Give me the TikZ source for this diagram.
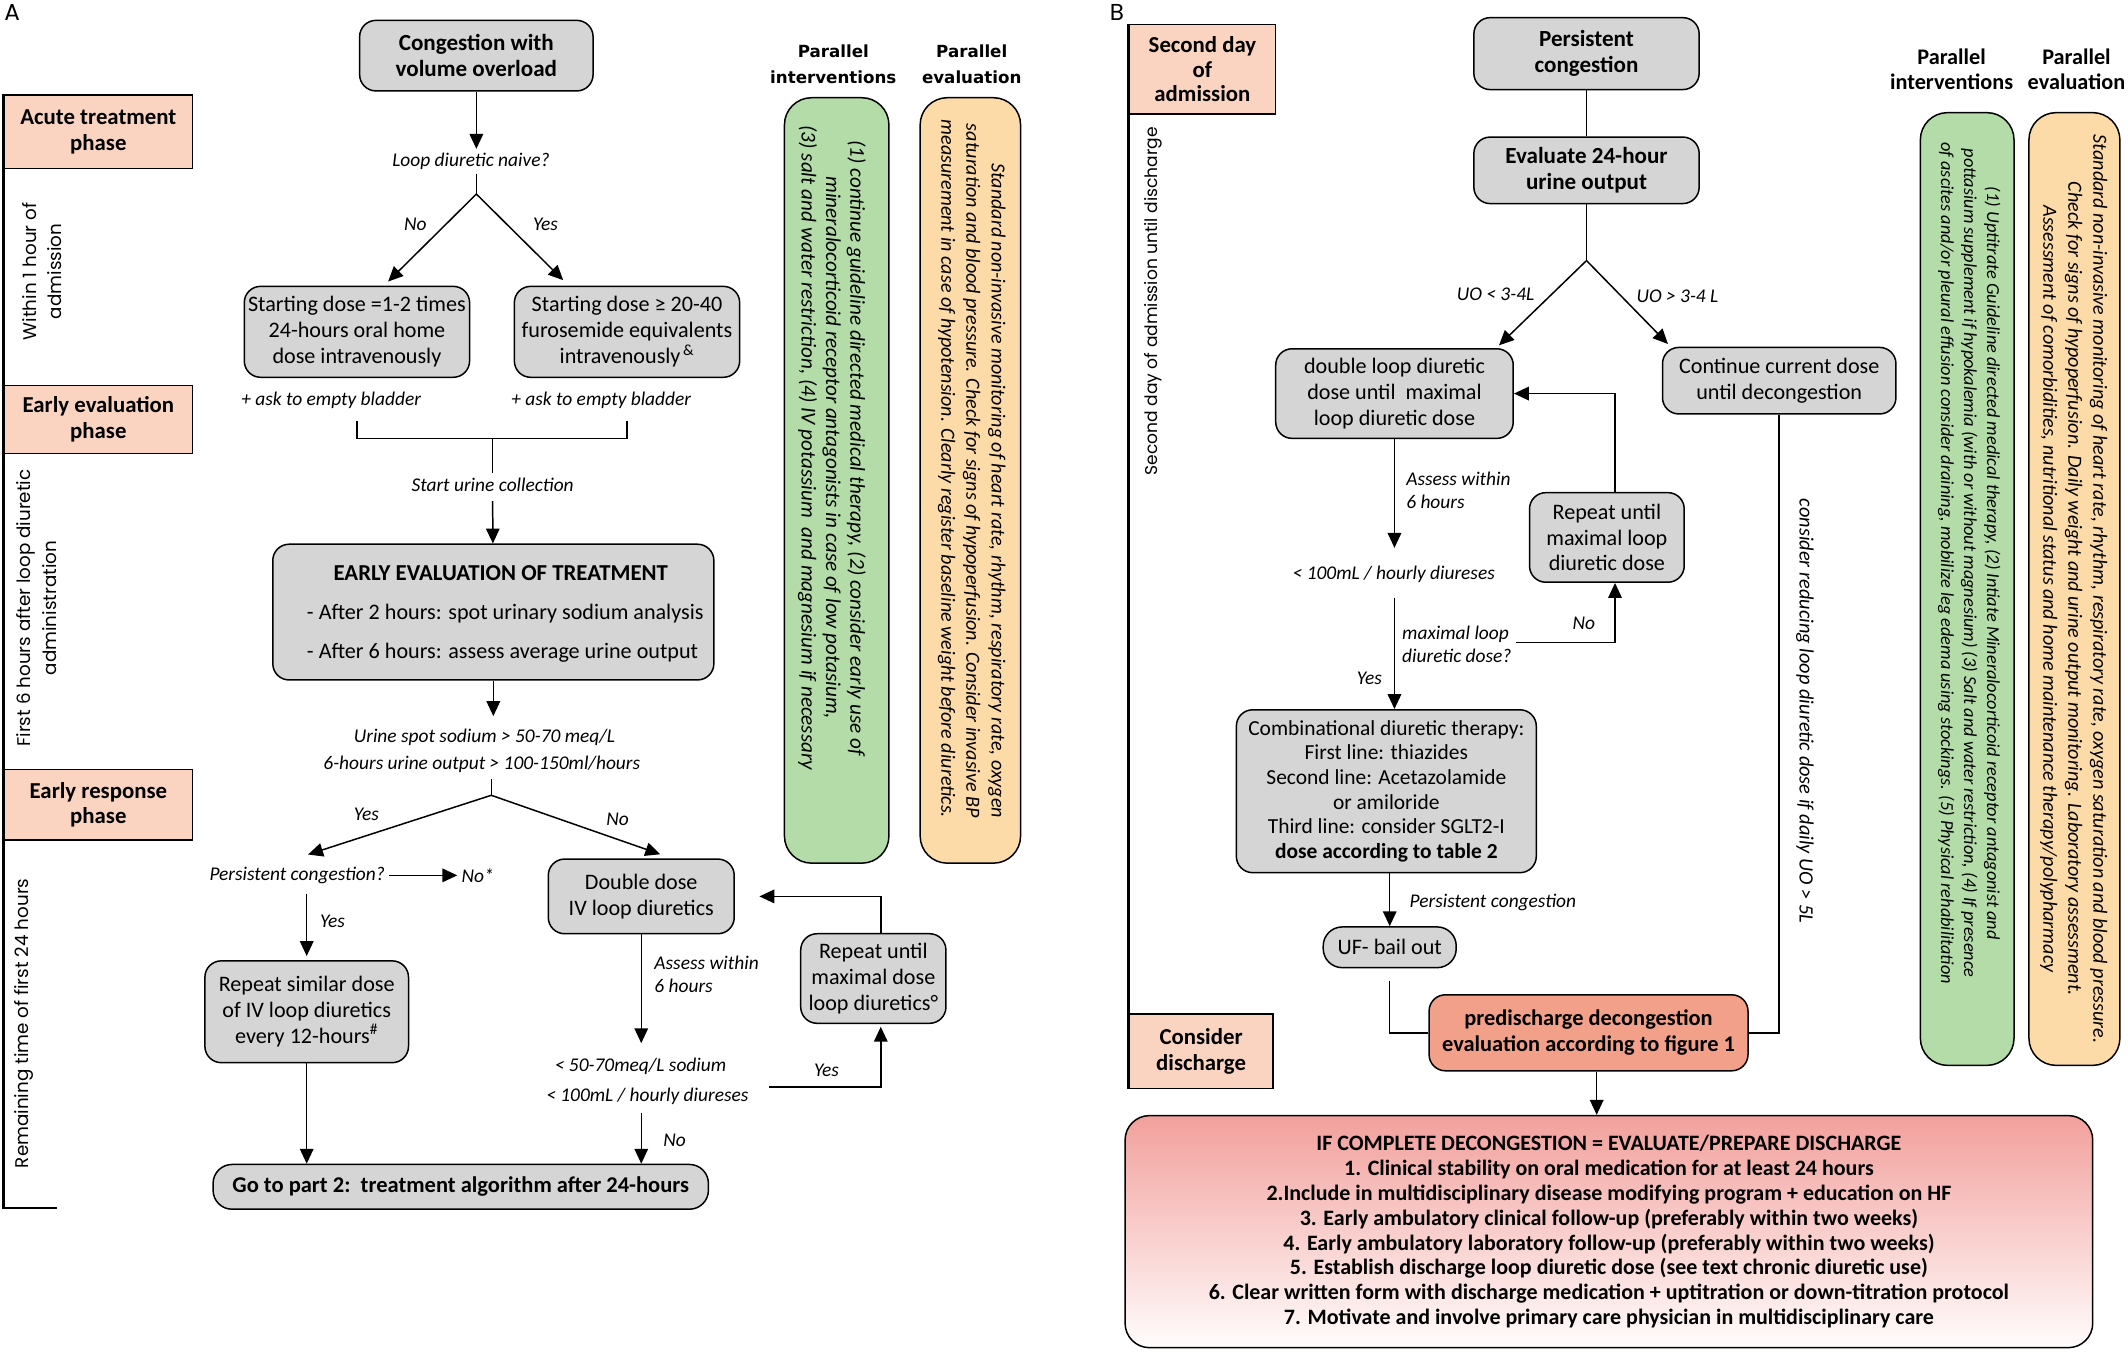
\documentclass[tikz,border=0pt]{standalone}
\usepackage{fontspec}
\setmainfont{Carlito}
\newfontfamily\gothic{Poppins}
\newfontfamily\verd{DejaVu Sans}
\usetikzlibrary{arrows.meta}
\definecolor{boxgray}{HTML}{D5D5D6}
\definecolor{phasefill}{HTML}{FBD4C1}
\definecolor{grn}{HTML}{B4DCA8}
\definecolor{org}{HTML}{FDDBA8}
\definecolor{salmon}{HTML}{F3A08A}
\definecolor{pinktop}{HTML}{F2A09C}
\begin{document}
\begin{tikzpicture}[x=1pt,y=-1pt,
 base/.style={line width=1.1pt},
 gbox/.style={draw, base, fill=boxgray, rounded corners=12pt, inner sep=0pt, align=center, font=\fontsize{16.3}{19}\selectfont},
 bbox/.style={gbox, font=\fontsize{17}{19.5}\selectfont\bfseries},
 phase/.style={draw, base, fill=phasefill, inner sep=0pt, align=center, font=\fontsize{16.8}{19}\selectfont\bfseries},
 lbl/.style={inner sep=3pt, align=center, font=\fontsize{14.3}{17}\selectfont\itshape},
 vlab/.style={inner sep=0pt, align=center, font=\gothic\fontsize{13.5}{19}\selectfont},
 con/.style={base},
 arr/.style={base, -{Triangle[length=11pt,width=10pt]}},
 side/.style={draw, base, rounded corners=20pt, inner sep=0pt},
 sidetxt/.style={inner sep=0pt, font=\itshape\fontsize{15.6}{18}\selectfont},
 hdrA/.style={inner sep=0pt, align=center, font=\verd\bfseries\fontsize{12.3}{19}\selectfont},
 hdrB/.style={inner sep=0pt, align=center, font=\bfseries\fontsize{16.4}{18}\selectfont},
 panel/.style={inner sep=0pt, font=\gothic\fontsize{17}{17}\selectfont}
]
\useasboundingbox (0,0) rectangle (1568,996);

% ================= Panel A =================
\node[panel] (labA) at (9,9) {A};
\node[phase, minimum width=139pt, minimum height=54pt] (p1) at (72.5,97) {Acute treatment\\phase};
\node[phase, minimum width=139pt, minimum height=50pt] (p2) at (72.5,309) {Early evaluation\\phase};
\node[phase, minimum width=139pt, minimum height=52pt] (p3) at (72.5,593) {Early response\\phase};
\coordinate (aEnd) at (42,890);
\draw[line width=1.8pt] (p1.north west) -- (p1.north west |- aEnd) -- (aEnd);
\node[vlab, rotate=90] (t1) at (31,200) {Within 1 hour of\\admission};
\node[vlab, rotate=90] (t2) at (27,448) {First 6 hours after loop diuretic\\administration};
\node[vlab, rotate=90] (t3) at (18,754) {Remaining time of first 24 hours};

\node[bbox, minimum width=172pt, minimum height=52pt] (c1) at (351,41) {Congestion with\\volume overload};
\node[lbl] (q1) at (347,119) {Loop diuretic naive?};
\draw[arr] (c1) -- (c1 |- q1.north);
\coordinate (b1) at (351,143);
\draw[con] (q1.south -| b1) -- (b1);
\node[gbox, minimum width=166pt, minimum height=67pt] (s1) at (263,244.5) {Starting dose =1-2 times\\24-hours oral home\\dose intravenously};
\node[gbox, minimum width=166pt, minimum height=67pt] (s2) at (462,244.5) {Starting dose ≥ 20-40\\furosemide equivalents\\intravenously\textsuperscript{\,\&}};
\draw[arr] (b1) -- ([xshift=23pt,yshift=3pt]s1.north);
\draw[arr] (b1) -- ([xshift=-47pt,yshift=4pt]s2.north);
\node[lbl] (nA1) at (306,165) {No};
\node[lbl] (yA1) at (402,165) {Yes};
\node[lbl] (e1) at (244,295) {+ ask to empty bladder};
\node[lbl] (e2) at (443,295) {+ ask to empty bladder};
\coordinate (bm) at (363,323);
\draw[con] (s1.south |- 0,310) -- (s1.south |- bm) -- (s2.south |- bm) -- (s2.south |- 0,310);
\node[lbl] (u1) at (363,357) {Start urine collection};
\draw[con] (bm) -- (u1);
\node[gbox, minimum width=325pt, minimum height=100pt] (ee) at (363.5,451) {};
\draw[arr] ([yshift=-4pt]u1.south) -- (ee);
\node[inner sep=0pt, font=\fontsize{16.8}{19}\selectfont\bfseries] (ee1) at (369,422) {EARLY EVALUATION OF TREATMENT};
\node[inner sep=0pt, anchor=west, font=\fontsize{16.3}{19}\selectfont] (ee2) at (226,452) {- After 2 hours: spot urinary sodium analysis};
\node[inner sep=0pt, anchor=west, font=\fontsize{16.3}{19}\selectfont] (ee3) at (226,481) {- After 6 hours: assess average urine output};
\node[lbl] (r1) at (357,543) {Urine spot sodium > 50-70 meq/L};
\node[lbl] (r2) at (355,563) {6-hours urine output > 100-150ml/hours};
\draw[arr] (ee) -- ([yshift=6pt]ee.south |- r1.north);
\coordinate (b2) at (362,586);
\draw[con] ([yshift=-2pt]r2.south -| b2) -- (b2);
\node[lbl] (pc) at (219,645) {Persistent congestion?};
\node[lbl] (nos) at (352,645) {No*};
\node[gbox, minimum width=137pt, minimum height=55pt] (dd) at (472.5,660.5) {Double dose\\IV loop diuretics};
\draw[arr] (b2) -- ([xshift=8pt,yshift=6pt]pc.north);
\draw[arr] (b2) -- ([xshift=14pt,yshift=3pt]dd.north);
\node[lbl] (yA2) at (270,600) {Yes};
\node[lbl] (nA2) at (455,604) {No};
\draw[arr] (pc) -- (nos);
\node[gbox, minimum width=150pt, minimum height=75pt] (rs) at (226,745.5) {Repeat similar dose\\of IV loop diuretics\\every 12-hours\textsuperscript{\#}};
\draw[arr] ([yshift=-4pt]pc.south -| rs.north) -- ([yshift=3pt]rs.north);
\node[lbl] (yA3) at (245,679) {Yes};
\node[bbox, minimum width=365pt, minimum height=33pt, rounded corners=14pt, font=\fontsize{16.6}{19}\selectfont\bfseries] (go) at (339.5,874.5) {Go to part 2:\ \ treatment algorithm after 24-hours};
\draw[arr] (rs) -- (rs |- go.north);
\node[lbl, anchor=west, align=left] (as1) at (479,718) {Assess within\\6 hours};
\node[lbl] (d1) at (472,786) {< 50-70meq/L sodium};
\node[lbl] (d2) at (477,808) {< 100mL / hourly diureses};
\draw[arr] (dd) -- ([yshift=8pt]dd.south |- d1.north);
\draw[arr] ([yshift=-3pt]d2.south -| dd.south) -- (dd.south |- go.north);
\node[lbl] (nA3) at (497,840) {No};
\node[gbox, minimum width=107pt, minimum height=66pt] (rm) at (643.5,721) {Repeat until\\maximal dose\\loop diuretics°};
\draw[arr] ([xshift=12pt,yshift=7pt]d2.east) -| ([xshift=5.5pt,yshift=-2pt]rm.south);
\node[lbl] (yA4) at (609,789) {Yes};
\draw[arr] ([xshift=5.5pt]rm.north) |- ([xshift=18pt]dd.east);

% side columns A
\node[hdrA] (ph1) at (614,47.5) {Parallel\\interventions};
\node[hdrA] (ph2) at (716,47.5) {Parallel\\evaluation};
\node[side, fill=grn, minimum width=77pt, minimum height=564pt] (gA) at (616.5,354) {};
\node[side, fill=org, minimum width=74pt, minimum height=564pt] (oA) at (715,354) {};
\node[sidetxt, rotate=-90, align=center] (gAt) at (613,330) {(1) continue guideline directed medical therapy, (2) consider early use of\\mineralocorticoid receptor antagonists in case of low potasium,\\(3) salt and water restriction, (4) IV potassium\ \ and magnesium if necessary};
\node[sidetxt, rotate=-90, align=right, anchor=east, font=\itshape\fontsize{14.8}{18.5}\selectfont] (oAt) at (716,603) {Standard non-invasive monitoring of heart rate, rhythm, respiratory rate, oxygen\\saturation and blood pressure. Check for signs of hypoperfusion. Consider invasive BP\\measurement in case of hypotension. Clearly register baseline weight before diuretics.};

% ================= Panel B =================
\node[panel] (labB) at (823,9) {B};
\node[phase, minimum width=108pt, minimum height=66pt, font=\fontsize{16.8}{18}\selectfont\bfseries] (q1B) at (886,51) {Second day\\of\\admission};
\node[phase, minimum width=106pt, minimum height=55pt] (q2B) at (885,774.5) {Consider\\discharge};
\draw[line width=1.8pt] (q1B.north west) -- (q2B.south west);
\node[vlab, rotate=90, font=\gothic\fontsize{12.6}{19}\selectfont] (t4) at (850,222) {Second day of admission until discharge};

\node[bbox, minimum width=166pt, minimum height=53pt] (pc2) at (1169,39.5) {Persistent\\congestion};
\node[bbox, minimum width=166pt, minimum height=49pt] (ev) at (1169,125.5) {Evaluate 24-hour\\urine output};
\draw[con] (pc2) -- (ev);
\coordinate (b3) at (1169,192);
\draw[con] (ev) -- (b3);
\node[gbox, minimum width=175pt, minimum height=66pt] (dl) at (1027.5,290) {double loop diuretic\\dose until\ \ maximal\\loop diuretic dose};
\node[gbox, minimum width=172pt, minimum height=49pt] (cc) at (1311,280.5) {Continue current dose\\until decongestion};
\draw[arr] (b3) -- ([xshift=77pt,yshift=2pt]dl.north);
\draw[arr] (b3) -- ([xshift=-82pt,yshift=2pt]cc.north);
\node[lbl] (uo1) at (1102,217) {UO < 3-4L};
\node[lbl] (uo2) at (1236,218) {UO > 3-4 L};
\node[lbl, anchor=west, align=left] (as2) at (1033,361.5) {Assess within\\6 hours};
\node[lbl] (hd) at (1027,423) {< 100mL / hourly diureses};
\draw[arr] (dl) -- ([yshift=10pt]hd.north -| dl.south);
\node[gbox, minimum width=221pt, minimum height=120pt, font=\fontsize{15.8}{18.2}\selectfont] (cb) at (1021.5,583) {Combinational diuretic therapy:\\First line: thiazides\\Second line: Acetazolamide\\or amiloride\\Third line: consider SGLT2-I\\\textbf{dose according to table 2}};
\draw[arr] ([yshift=-8pt]hd.south -| dl.south) -- (dl.south |- cb.north);
\node[lbl, anchor=west, align=left] (ml) at (1030,474.5) {maximal loop\\diuretic dose?};
\node[lbl] (yB1) at (1009,500) {Yes};
\node[gbox, minimum width=114pt, minimum height=66pt] (rr) at (1184,396) {Repeat until\\maximal loop\\diuretic dose};
\draw[arr] ([yshift=1pt]ml.east) -| ([xshift=6pt]rr.south);
\node[lbl] (nB1) at (1167,459) {No};
\draw[arr] ([xshift=6pt]rr.north) |- (dl.east);
\node[gbox, minimum width=98pt, minimum height=30pt, rounded corners=14pt] (uf) at (1024,698) {UF- bail out};
\draw[arr] (cb.south -| uf.north) -- (uf.north);
\node[lbl] (pcl) at (1100,665) {Persistent congestion};
\node[gbox, fill=salmon, minimum width=235pt, minimum height=56pt, font=\fontsize{16.5}{19}\selectfont\bfseries] (pd) at (1170.5,761) {predischarge decongestion\\evaluation according to figure 1};
\draw[con] ([yshift=-9pt]uf.south) |- (pd.west);
\draw[con] (cc.south) |- (pd.east);
\node[lbl, rotate=-90, font=\fontsize{15}{17}\selectfont\itshape] (rd) at (1330,524) {consider reducing loop diuretic dose if daily UO > 5L};
\node[draw, base, rounded corners=18pt, top color=pinktop, bottom color=white!97!pinktop, minimum width=713pt, minimum height=171pt, inner sep=0pt, align=center, font=\fontsize{16.2}{18.3}\selectfont\bfseries] (ifb) at (1185.5,907.5) {IF COMPLETE DECONGESTION = EVALUATE/PREPARE DISCHARGE\\1. Clinical stability on oral medication for at least 24 hours\\2.Include in multidisciplinary disease modifying program + education on HF\\3. Early ambulatory clinical follow-up (preferably within two weeks)\\4. Early ambulatory laboratory follow-up (preferably within two weeks)\\5. Establish discharge loop diuretic dose (see text chronic diuretic use)\\6. Clear written form with discharge medication + uptitration or down-titration protocol\\7. Motivate and involve primary care physician in multidisciplinary care};
\draw[arr] ([xshift=6pt]pd.south) -- ([xshift=6pt]pd.south |- ifb.north);

% side columns B
\node[hdrB] (ph3) at (1438,51) {Parallel\\interventions};
\node[hdrB] (ph4) at (1530,51) {Parallel\\evaluation};
\node[side, fill=grn, minimum width=69pt, minimum height=702pt] (gB) at (1449.5,434) {};
\node[side, fill=org, minimum width=67pt, minimum height=702pt] (oB) at (1528.5,434) {};
\node[sidetxt, rotate=-90, align=center, font=\itshape\fontsize{13.5}{17}\selectfont] (gBt) at (1451,415) {(1) Uptitrate Guideline directed medical therapy, (2) Intiate Mineralocorticoid receptor antagonist and\\pottasium supplement if hypokalemia (with or without magnesium) (3) Salt and water restriction, (4) If presence\\of ascites and/or pleural effusion consider draining, mobilize leg edema using stockings. (5) Physical rehabilitation};
\node[sidetxt, rotate=-90, align=center, font=\itshape\fontsize{14.8}{18.5}\selectfont] (oBt) at (1528,434) {Standard non-invasive monitoring of heart rate, rhythm, respiratory rate, oxygen saturation and blood pressure.\\Check for signs of hypoperfusion. Daily weight and urine output monitoring. Laboratory assessment.\\Assessment of comorbidities, nutritional status and home maintenance therapy/polypharmacy};
\end{tikzpicture}
\end{document}
